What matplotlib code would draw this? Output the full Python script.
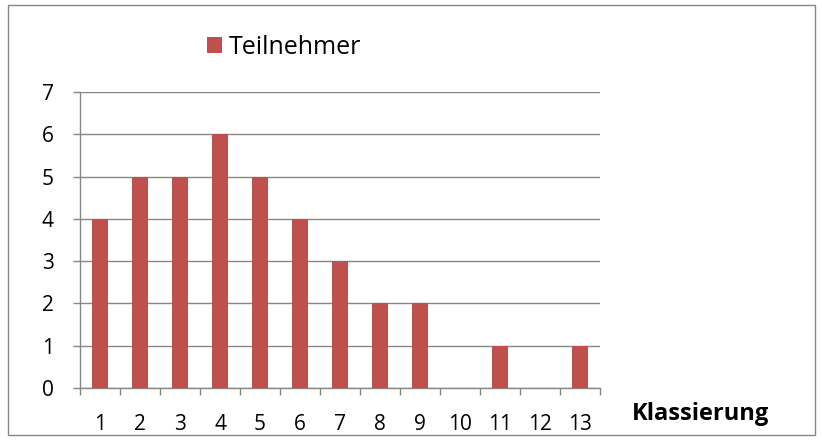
import numpy as np
import matplotlib.pyplot as plt
from matplotlib.patches import Rectangle

# Daten aus dem Diagramm
klassen = list(range(1, 14))
teilnehmer = [4, 5, 5, 6, 5, 4, 3, 2, 2, 0, 1, 0, 1]

farbe = "#C0504D"
grau = "#868686"

plt.rcParams["font.family"] = ["Open Sans", "DejaVu Sans"]

fig = plt.figure(figsize=(8.22, 4.48), dpi=100)
fig.patches.append(Rectangle((8 / 822, 1 - 435 / 448), 807 / 822, 430 / 448,
                             transform=fig.transFigure, fill=False,
                             edgecolor=grau, linewidth=1))

ax = fig.add_axes([80 / 822, 1 - 388 / 448, 520 / 822, 296 / 448])
ax.bar(klassen, teilnehmer, width=0.4, color=farbe, zorder=3, label="Teilnehmer")

ax.set_xlim(0.5, 13.5)
ax.set_ylim(0, 7)
ax.set_yticks(range(0, 8))
ax.set_xticks(klassen)
ax.set_xticks(np.arange(0.5, 14, 1), minor=True)
ax.tick_params(axis="x", which="major", length=0, pad=19, labelsize=15)
ax.tick_params(axis="x", which="minor", length=5, color=grau, width=1)
ax.tick_params(axis="y", length=5, color=grau, width=1, labelsize=15, pad=14)
ax.grid(axis="y", color=grau, linewidth=1, zorder=0)

for s in ["top", "right"]:
    ax.spines[s].set_visible(False)
for s in ["left", "bottom"]:
    ax.spines[s].set_color(grau)
    ax.spines[s].set_linewidth(1)

fig.text(700 / 822, 1 - 414 / 448, "Klassierung", fontsize=17, fontweight="bold",
         ha="center", va="center")

leg = fig.legend(loc="center", bbox_to_anchor=(284 / 822, 1 - 47 / 448),
                 frameon=False, fontsize=18, handlelength=0.6, handleheight=0.6,
                 handletextpad=0.3)

plt.savefig("out.png", dpi=100)
